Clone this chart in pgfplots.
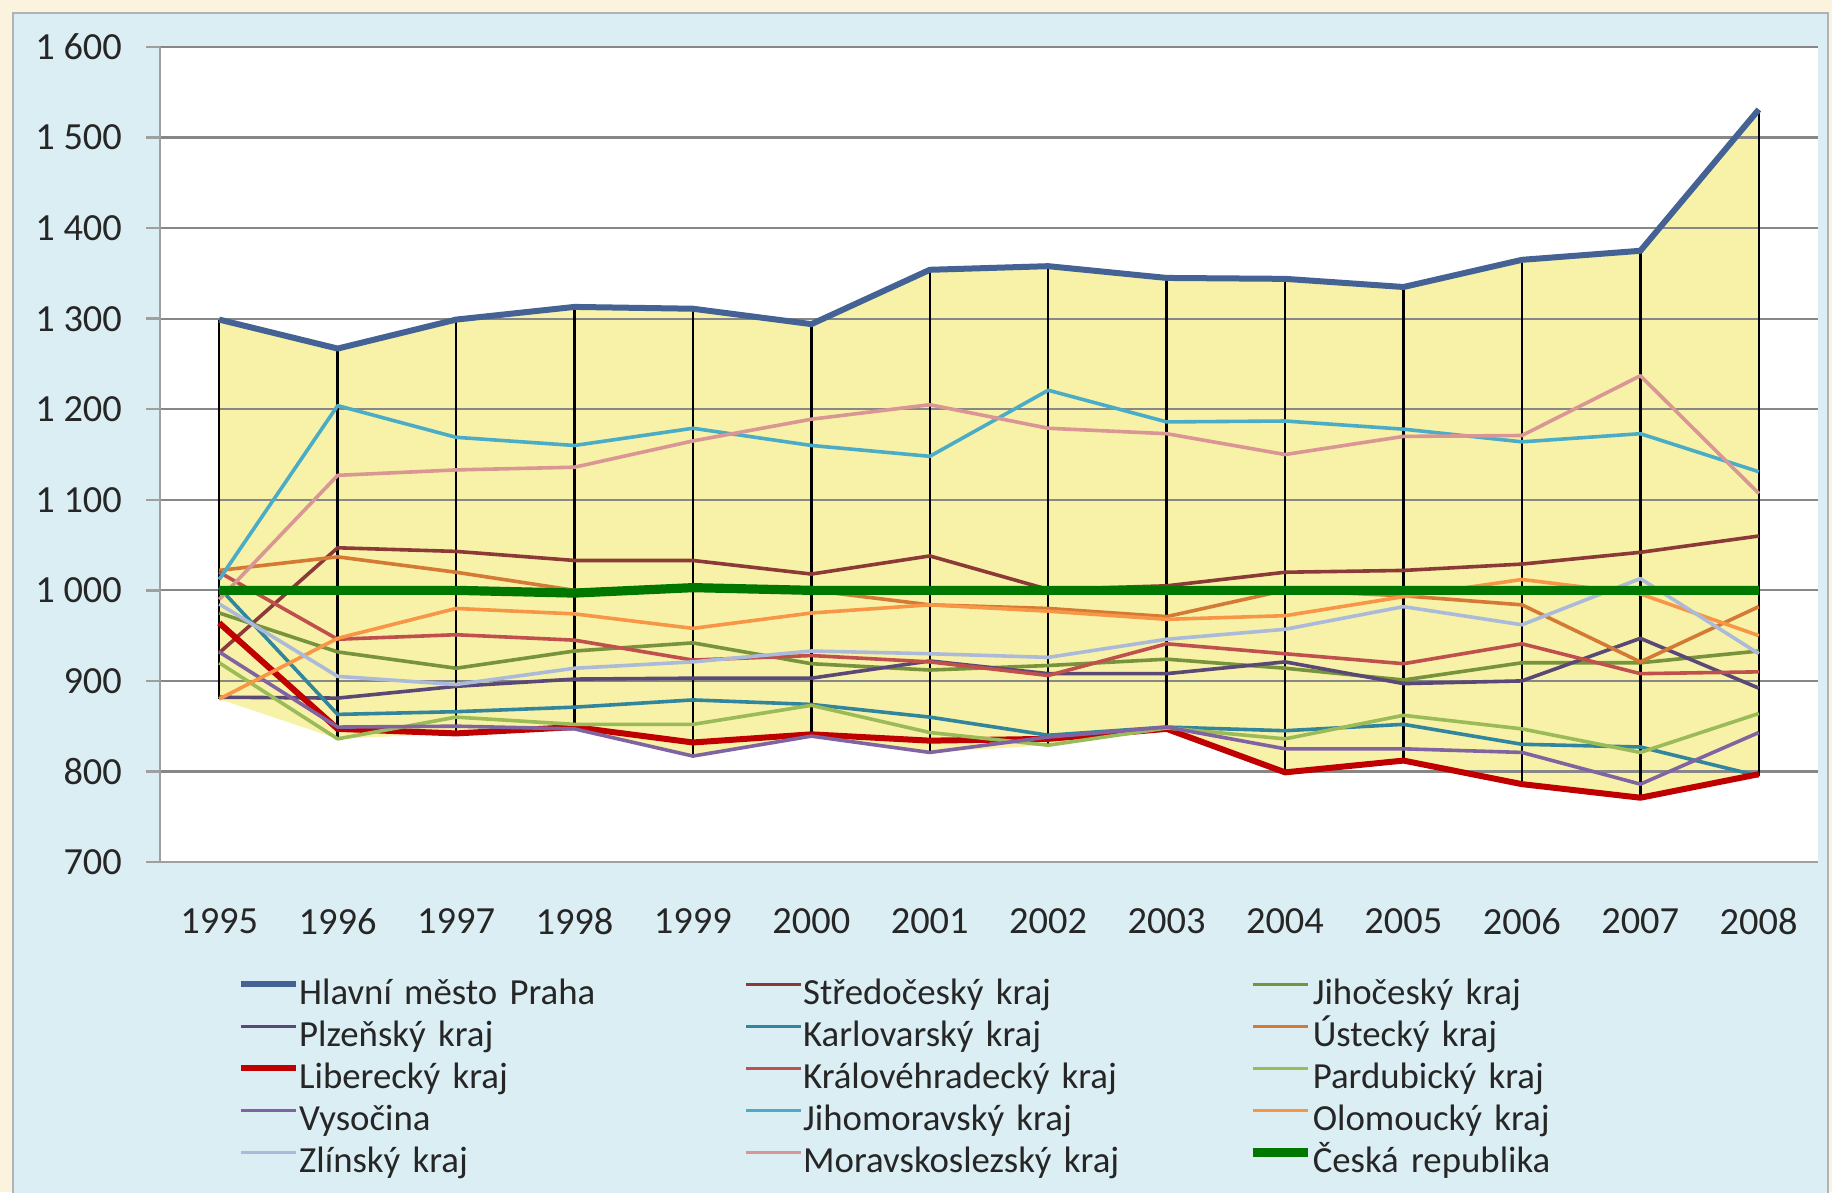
\documentclass[border=0pt]{standalone}
\usepackage{fontspec}
\setmainfont{Carlito}
\usepackage{pgfplots}
\pgfplotsset{compat=1.18}
\usepackage{pgfplotstable}
\usepgfplotslibrary{fillbetween}

\definecolor{cream}{RGB}{251,243,222}
\definecolor{bgblue}{RGB}{219,238,244}
\definecolor{fillyellow}{RGB}{247,242,168}
\definecolor{gridgray}{RGB}{135,135,135}
\definecolor{cPraha}{RGB}{68,98,148}
\definecolor{cStred}{RGB}{140,58,56}
\definecolor{cJihoc}{RGB}{119,147,60}
\definecolor{cPlzen}{RGB}{90,72,118}
\definecolor{cKarl}{RGB}{49,133,156}
\definecolor{cUst}{RGB}{212,122,52}
\definecolor{cLiber}{RGB}{192,0,0}
\definecolor{cKralo}{RGB}{192,80,77}
\definecolor{cPardu}{RGB}{155,187,89}
\definecolor{cVysoc}{RGB}{128,100,162}
\definecolor{cJihom}{RGB}{75,172,198}
\definecolor{cOlom}{RGB}{247,150,70}
\definecolor{cZlin}{RGB}{170,186,216}
\definecolor{cMorav}{RGB}{217,150,148}
\definecolor{cCR}{RGB}{0,120,0}

% extra bottom layer for the frame behind the axis
\pgfplotsset{
  layers/framed/.define layer set={
    bg, axis background, axis grid, axis ticks, axis lines, axis tick labels,
    pre main, main, axis descriptions, axis foreground
  }{},
}

% index values by region, 1995-2008; low = bottom of the band
\pgfplotstableread{
year praha stred jihoc plzen karl ust  liber kralo pardu vysoc jihom olom zlin morav cr   low
1995 1299  931   975   882   1003 1022 964   1020  920   932   1012  880  985  990   1000 880
1996 1267  1047  932   881   863  1037 847   946   836   849   1204  947  905  1127  1000 836
1997 1299  1043  914   894   866  1020 842   951   860   850   1169  980  896  1133  1000 842
1998 1313  1033  933   902   871  1000 849   945   852   847   1160  974  914  1136  997  847
1999 1311  1033  942   903   879  1004 832   923   852   817   1179  958  921  1165  1003 817
2000 1294  1018  919   903   874  1000 841   928   873   839   1160  975  933  1189  1000 839
2001 1354  1038  912   922   860  984  834   921   843   821   1148  984  930  1205  1000 821
2002 1358  1001  917   908   840  980  836   906   829   838   1221  977  926  1179  1000 829
2003 1345  1005  924   908   849  971  847   941   848   849   1186  968  946  1173  1000 847
2004 1344  1020  914   921   845  1000 799   930   836   825   1187  972  957  1150  1000 799
2005 1335  1022  901   897   852  994  812   919   862   825   1178  993  982  1170  1000 812
2006 1365  1029  920   900   830  984  786   941   847   821   1164  1012 962  1171  1000 786
2007 1375  1042  920   947   827  921  771   908   821   786   1173  996  1013 1237  1000 771
2008 1531  1060  933   892   795  982  797   910   864   843   1131  950  930  1107  1000 795
}\datatable

\begin{document}
\begin{tikzpicture}
\begin{axis}[
  set layers=framed,
  at={(0,0)}, anchor=south west,
  scale only axis, width=414.5pt, height=203.75pt,
  xmin=1994.5, xmax=2008.5, ymin=700, ymax=1600,
  xtick={1995,...,2008}, ytick={700,800,...,1600},
  axis x line*=bottom, axis y line*=left,
  axis line style={draw=gray!75, line width=0.6pt},
  xtick style={draw=none},
  ytick style={draw=gray!75, line width=0.6pt},
  tick align=outside, major tick length=3.5pt,
  ymajorgrids, grid style={gridgray, line width=0.55pt},
  ticklabel style={font=\fontsize{9.6}{11}\selectfont, text=black!85},
  /pgf/number format/assume math mode=true,
  yticklabel style={/pgf/number format/1000 sep={\ }, xshift=-2.5pt},
  xticklabel style={/pgf/number format/1000 sep={}, yshift=-4.5pt},
  legend columns=3,
  legend style={at={(axis description cs:0,0)}, anchor=north west,
    xshift=19.3pt, yshift=-28.5pt, draw=none, fill=none,
    font=\fontsize{9.2}{11}\selectfont, text=black!85,
    column sep=0pt, row sep=1.5pt, inner sep=0pt,
    nodes={inner sep=0pt, text width=111.3pt, align=left,
      text height=7pt, text depth=2pt}},
  legend image code/.code={\draw[#1] (0pt,2.6pt) -- (13.8pt,2.6pt);},
  every axis plot/.append style={line join=round},
]
\begin{pgfonlayer}{bg}
\fill[cream] ([xshift=-40pt,yshift=-82.5pt]rel axis cs:0,0) rectangle ([xshift=3.5pt,yshift=11.75pt]rel axis cs:1,1);
\filldraw[fill=bgblue, draw=gray!60, line width=0.4pt] ([xshift=-36.75pt,yshift=-84pt]rel axis cs:0,0) rectangle ([xshift=2.5pt,yshift=8.5pt]rel axis cs:1,1);
\fill[white] (rel axis cs:0,0) rectangle (rel axis cs:1,1);
\end{pgfonlayer}

\addplot[draw=none, name path=up, forget plot] table[x=year, y=praha]{\datatable};
\addplot[draw=none, name path=low, forget plot] table[x=year, y=low]{\datatable};
\addplot[fill=fillyellow, draw=none, on layer=axis background, forget plot] fill between[of=up and low];

% high-low lines
\addplot[black, line width=0.6pt, forget plot, unbounded coords=jump] coordinates {
  (1995,1299) (1995,880) (1995,nan)
  (1996,1267) (1996,836) (1996,nan)
  (1997,1299) (1997,842) (1997,nan)
  (1998,1313) (1998,847) (1998,nan)
  (1999,1311) (1999,817) (1999,nan)
  (2000,1294) (2000,839) (2000,nan)
  (2001,1354) (2001,821) (2001,nan)
  (2002,1358) (2002,829) (2002,nan)
  (2003,1345) (2003,847) (2003,nan)
  (2004,1344) (2004,799) (2004,nan)
  (2005,1335) (2005,812) (2005,nan)
  (2006,1365) (2006,786) (2006,nan)
  (2007,1375) (2007,771) (2007,nan)
  (2008,1531) (2008,795)
};

\addplot[cPraha, line width=1.5pt] table[x=year, y=praha]{\datatable};
\addlegendentry{Hlavní město Praha}
\addplot[cStred, line width=0.9pt] table[x=year, y=stred]{\datatable};
\addlegendentry{Středočeský kraj}
\addplot[cJihoc, line width=0.9pt] table[x=year, y=jihoc]{\datatable};
\addlegendentry{Jihočeský kraj}
\addplot[cPlzen, line width=0.9pt] table[x=year, y=plzen]{\datatable};
\addlegendentry{Plzeňský kraj}
\addplot[cKarl, line width=0.9pt] table[x=year, y=karl]{\datatable};
\addlegendentry{Karlovarský kraj}
\addplot[cUst, line width=0.9pt] table[x=year, y=ust]{\datatable};
\addlegendentry{Ústecký kraj}
\addplot[cLiber, line width=1.5pt] table[x=year, y=liber]{\datatable};
\addlegendentry{Liberecký kraj}
\addplot[cKralo, line width=0.9pt] table[x=year, y=kralo]{\datatable};
\addlegendentry{Královéhradecký kraj}
\addplot[cPardu, line width=0.9pt] table[x=year, y=pardu]{\datatable};
\addlegendentry{Pardubický kraj}
\addplot[cVysoc, line width=0.9pt] table[x=year, y=vysoc]{\datatable};
\addlegendentry{Vysočina}
\addplot[cJihom, line width=0.9pt] table[x=year, y=jihom]{\datatable};
\addlegendentry{Jihomoravský kraj}
\addplot[cOlom, line width=0.9pt] table[x=year, y=olom]{\datatable};
\addlegendentry{Olomoucký kraj}
\addplot[cZlin, line width=0.9pt] table[x=year, y=zlin]{\datatable};
\addlegendentry{Zlínský kraj}
\addplot[cMorav, line width=0.9pt] table[x=year, y=morav]{\datatable};
\addlegendentry{Moravskoslezský kraj}
\addplot[cCR, line width=2.3pt] table[x=year, y=cr]{\datatable};
\addlegendentry{Česká republika}
\end{axis}
\pgfresetboundingbox
\path[use as bounding box] (-40pt,-82.5pt) rectangle (418pt,215.5pt);
\end{tikzpicture}
\end{document}
